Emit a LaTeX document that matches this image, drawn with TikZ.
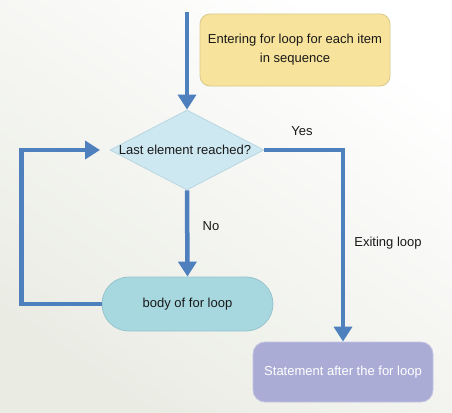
\documentclass[tikz,border=0pt]{standalone}
\usepackage{fontspec}
\setmainfont{Liberation Sans}
\usetikzlibrary{arrows.meta,shapes.geometric}
\definecolor{lineblue}{RGB}{77,128,189}
\definecolor{yelfill}{RGB}{247,227,155}
\definecolor{yeldraw}{RGB}{216,202,140}
\definecolor{diafill}{RGB}{206,232,241}
\definecolor{diadraw}{RGB}{184,214,226}
\definecolor{bodyfill}{RGB}{167,216,224}
\definecolor{bodydraw}{RGB}{150,196,204}
\definecolor{stmtfill}{RGB}{171,172,214}
\definecolor{stmtdraw}{RGB}{196,196,226}
\definecolor{bgB}{RGB}{234,236,228}
\definecolor{txt}{RGB}{25,25,25}
\tikzset{
  conn/.style={draw=lineblue, line width=4.5pt, -{Triangle[length=15pt,width=18pt]}},
  lbl/.style={font=\fontsize{13}{15}\selectfont, text=txt, inner sep=0pt},
  notebox/.style={draw=yeldraw, fill=yelfill, rounded corners=10pt, minimum width=190pt, minimum height=72pt, align=center, font=\fontsize{13}{19}\selectfont, text=txt, line width=0.8pt},
  decide/.style={diamond, draw=diadraw, fill=diafill, minimum width=154pt, minimum height=80pt, inner sep=0pt, line width=0.8pt},
  bodybox/.style={draw=bodydraw, fill=bodyfill, rounded corners=27pt, minimum width=171pt, minimum height=54pt, font=\fontsize{13}{15}\selectfont, text=txt, line width=0.8pt},
  stmtbox/.style={draw=stmtdraw, fill=stmtfill, rounded corners=12pt, minimum width=180pt, minimum height=60pt, font=\fontsize{13}{15}\selectfont, text=white, line width=0.8pt}
}
\begin{document}
\begin{tikzpicture}[x=1pt,y=-1pt]
\useasboundingbox (0,0) rectangle (452,412);
\shade[top color=white, bottom color=bgB, shading angle=-35] (0,0) rectangle (452,412);
% nodes
\node[notebox] (note) at (295,50) {Entering for loop for each item\\in sequence};
\node[decide] (dia) at (187,150) {};
\node[lbl] (diatext) at (185,150) {Last element reached?};
\node[bodybox] (body) at (187.5,304) {body of for loop};
\node[stmtbox] (stmt) at (343,372) {Statement after the for loop};
\coordinate (start) at (187,12);
\coordinate (loopin) at (100,150);
% connectors
\draw[conn] (start) -- (dia.north);
\draw[conn] (dia.south) -- (body.north);
\draw[conn] (dia.east) -| (stmt.north);
\draw[conn] (body.west) -- ++(-80,0) |- (loopin);
% labels
\node[lbl] (yes) at (302,131) {Yes};
\node[lbl] (no) at (211,226) {No};
\node[lbl] (exit) at (388,243) {Exiting loop};
\end{tikzpicture}
\end{document}
